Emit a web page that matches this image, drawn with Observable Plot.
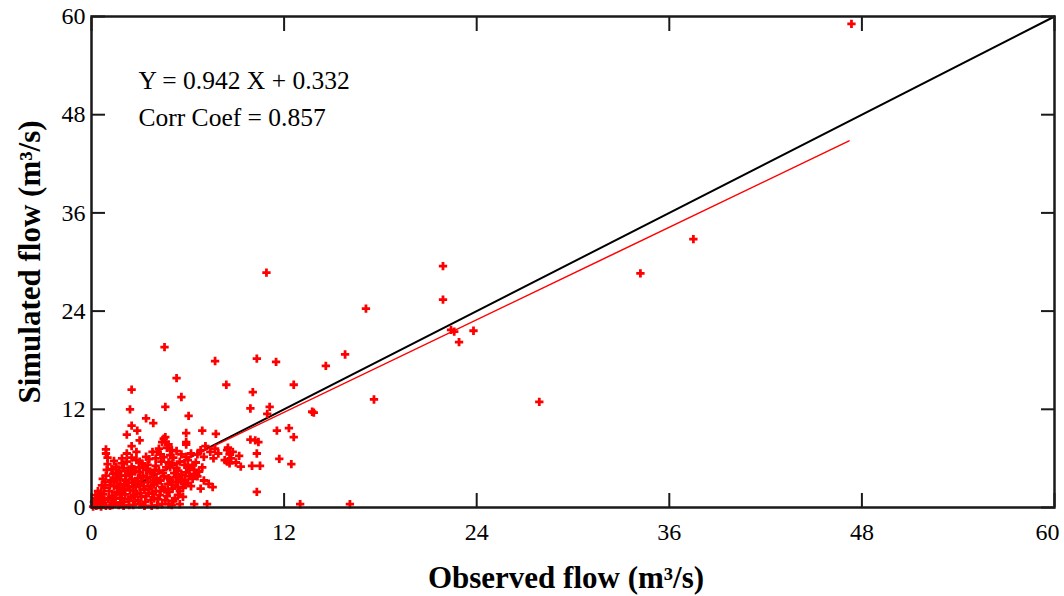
<!DOCTYPE html>
<html><head><meta charset="utf-8">
<script src="https://cdn.jsdelivr.net/npm/d3@7"></script>
<script src="https://cdn.jsdelivr.net/npm/@observablehq/plot@0.6"></script>
<style>body{margin:0;background:#fff}</style>
</head><body><div id="chart"></div>
<script>
// Observed vs simulated flow pairs (m3/s)
const flowPairs = [
  [47.35,59.1],[37.5,32.8],[34.2,28.6],[27.9,12.9],[21.9,29.5],[21.9,25.4],[22.4,21.7],[22.6,21.5],
  [22.9,20.2],[23.8,21.6],[17.1,24.3],[17.6,13.2],[15.8,18.7],[14.6,17.3],[13.75,11.7],[13.85,11.6],
  [16.1,0.4],[13.0,0.4],[10.9,28.7],[4.55,19.6],[5.3,15.8],[7.7,17.9],[10.3,18.2],[11.5,17.8],
  [8.4,15.0],[12.6,15.0],[10.05,14.1],[5.6,13.5],[4.6,12.3],[9.9,12.1],[11.1,12.3],[10.95,11.45],
  [2.5,14.4],[2.4,12.0],[3.85,10.3],[6.05,11.2],[6.9,9.4],[5.9,9.1],[7.75,9.0],[11.55,9.4],
  [12.3,9.7],[12.6,8.6],[9.9,8.3],[10.2,8.2],[10.4,8.0],[5.9,8.0],[12.45,5.3],[11.7,5.95],
  [10.0,5.1],[10.5,5.1],[10.3,6.6],[9.3,5.0],[10.3,1.9],[7.55,2.5],[6.4,0.4],[7.2,0.4],
  [4.4,0.4],[4.8,0.4],[2.5,10.0],[2.85,9.4],[3.4,10.9],[2.2,8.9],[3.0,8.2],[2.5,7.5],
  [2.8,6.8],[0.9,7.1],[4.1,6.8],[4.6,8.0],[4.5,8.4],[4.8,7.7],[5.9,7.7],[5.9,6.2],
  [8.45,7.0],[8.6,6.5],[8.45,5.6],[6.9,4.9],[6.4,4.1],[5.4,1.55],[5.85,2.9],[5.45,3.7],
  [4.5,6.15],[4.9,4.9],
  [6.8,7.0],[7.1,7.5],[7.4,6.8],[7.7,7.2],[7.0,6.2],[7.6,6.0],[7.9,6.6],[6.6,6.5],
  [8.5,7.3],[8.8,6.8],[8.7,6.0],[9.0,5.5],[9.2,6.3],[8.3,5.8],[8.6,5.4],
  [4.6,8.6],[4.4,8.0],[4.7,7.3],[5.0,7.0],[5.3,6.9],[5.6,6.5],[5.1,6.1],[5.5,5.6],
  [6.0,5.8],[6.2,6.6],[5.8,5.2],[6.1,4.6],[5.4,4.5],[6.5,5.5],[6.7,4.4],[6.3,3.5],
  [6.0,3.0],[5.7,2.4],[6.6,3.8],[7.0,3.3],[7.3,2.9],[6.8,2.3],
  [0.1,0.1],[0.2,0.4],[0.3,0.2],[0.35,0.8],[0.45,0.3],[0.5,1.2],[0.55,0.6],[0.6,0.1],[0.25,1.5],[0.4,2.0],
  [0.7,0.5],[0.75,1.6],[0.8,2.4],[0.85,3.1],[0.9,3.9],[0.95,4.6],[1.0,5.3],[1.0,6.1],[0.9,6.6],[1.05,1.0],
  [1.1,2.0],[1.15,0.2],[1.2,3.3],[0.8,0.9],
  [1.3,1.4],[1.35,4.1],[1.4,2.6],[1.45,0.6],[1.5,3.6],[1.55,5.0],[1.6,1.9],[1.7,0.3],[1.7,4.5],[1.75,2.9],
  [1.8,1.1],[1.85,3.9],[1.9,5.4],[1.95,2.2],[2.0,0.7],[2.0,4.8],
  [2.1,1.6],[2.15,3.3],[2.2,5.6],[2.3,2.6],[2.35,0.3],[2.4,4.1],[2.45,1.2],[2.5,5.0],[2.55,3.0],[2.6,2.0],
  [2.7,0.8],[2.7,4.4],[2.8,5.8],[2.85,1.7],[2.9,3.6],[3.0,2.6],[3.0,0.4],[2.95,4.9],
  [3.1,1.3],[3.15,5.4],[3.2,3.9],[3.3,2.2],[3.35,0.7],[3.4,4.6],[3.5,3.1],[3.55,1.8],[3.6,5.9],[3.7,2.6],
  [3.75,0.2],[3.8,4.1],[3.85,3.4],[3.9,1.1],[4.0,5.1],[4.0,2.0],
  [4.1,3.0],[4.2,4.5],[4.25,1.5],[4.35,5.6],[4.4,2.5],[4.5,3.8],[4.6,0.9],[4.65,4.9],[4.75,2.9],[4.85,1.9],
  [4.9,3.4],[5.0,5.4],[5.05,2.3],[5.15,4.2],[5.2,1.1],[4.3,6.5],[4.2,7.2],[4.9,6.4],
  [5.3,3.1],[5.5,2.0],[5.6,4.0],[5.8,3.4],[6.0,4.9],[6.2,2.6],[6.4,4.6],
  [0.9,0.2],[1.3,0.3],[2.0,0.2],[2.6,0.3],[3.3,0.2],[4.1,0.3],[5.0,0.3],[5.5,0.4],
  [0.15,0.7],[0.3,1.1],[0.6,1.8],[0.65,2.7],[0.5,0.9],[0.7,3.5],[1.25,4.7],[1.15,2.7],[1.25,0.9],[1.4,3.1],
  [1.6,4.2],[1.5,1.2],[1.65,2.4],[1.8,3.4],[1.85,0.6],[1.9,1.6],[2.05,2.7],[2.1,3.9],[2.25,4.5],[2.3,1.0],
  [2.4,2.1],[2.5,3.5],[2.6,4.7],[2.65,1.4],[2.75,2.5],[2.8,3.2],[2.9,0.9],[3.0,4.3],[3.05,1.8],[3.1,3.0],
  [3.2,4.9],[3.25,2.6],[3.4,1.4],[3.45,3.7],[3.5,5.2],[3.6,2.3],[3.65,4.4],[3.7,0.9],[3.8,1.7],[3.9,2.8],
  [3.95,4.6],[4.05,3.6],[4.15,1.0],[4.3,2.0],[4.3,3.3],[4.45,4.2],[4.55,2.2],[4.7,1.4],[4.8,3.6],[4.8,5.5],
  [5.0,2.8],[5.1,0.8],[5.25,3.7],[5.3,4.8],[5.4,2.5],[5.6,3.2],[5.7,1.3],[5.9,4.3],[6.1,3.8],[6.3,5.2],
  [3.4,6.2],[3.0,5.6],[2.5,6.1],[1.9,6.0],[1.4,5.7],[2.2,6.6],[3.8,6.8],[4.0,6.0]
];
// 1:1 line and fitted regression line end points
const oneToOneX = [0, 60];
const oneToOneY = [0, 60];
const fitX = [0, 47.2];
const fitY = [0.33, 44.8];
const axisTicks = [0, 12, 24, 36, 48, 60];
const innerXLabelTicks = [0, 12, 24, 36, 48];
const lastXLabelTick = [60];
const annotations = ["Y = 0.942 X + 0.332", "Corr Coef = 0.857"];
const xLabel = "Observed flow (m³/s)";
const yLabel = "Simulated flow (m³/s)";

const points = flowPairs.map(([o, s]) => ({observed: o, simulated: s}));
const lineData = (xs, ys) => xs.map((x, i) => ({x, y: ys[i]}));
const ink = "#1a1a1a";

const chart = Plot.plot({
  width: 1064,
  height: 596,
  marginLeft: 91,
  marginRight: 10,
  marginTop: 16,
  marginBottom: 89,
  style: {fontFamily: "'Liberation Serif', 'Times New Roman', serif", fontSize: "24px", background: "#fff", color: ink},
  x: {domain: [0, 60]},
  y: {domain: [0, 60]},
  marks: [
    Plot.line(lineData(oneToOneX, oneToOneY), {x: "x", y: "y", stroke: "#000", strokeWidth: 2}),
    Plot.line(lineData(fitX, fitY), {x: "x", y: "y", stroke: "#ff0000", strokeWidth: 1.5}),
    Plot.dot(points, {x: "observed", y: "simulated", symbol: "cross", r: 3.5, fill: "#ff0000", stroke: "none"}),
    Plot.axisX({anchor: "bottom", ticks: axisTicks, tickSize: -14, strokeWidth: 2, stroke: ink, tickFormat: () => "", label: null}),
    Plot.axisX({anchor: "bottom", ticks: innerXLabelTicks, tickSize: 0, tickPadding: 15, fill: "#000", label: null, fontSize: 24}),
    Plot.axisX({anchor: "bottom", ticks: lastXLabelTick, tickSize: 0, tickPadding: 15, dx: -7, fill: "#000", label: null, fontSize: 24}),
    Plot.axisX({anchor: "top", ticks: axisTicks, tickSize: -14, tickFormat: () => "", strokeWidth: 2, stroke: ink, label: null}),
    Plot.axisY({anchor: "left", ticks: axisTicks, tickSize: -14, tickPadding: 20, strokeWidth: 2, stroke: ink, fill: "#000", label: null, fontSize: 24}),
    Plot.axisY({anchor: "right", ticks: axisTicks, tickSize: -14, tickFormat: () => "", strokeWidth: 2, stroke: ink, label: null}),
    Plot.frame({stroke: ink, strokeWidth: 2.5}),
    Plot.text([annotations[0]], {frameAnchor: "top-left", dx: 47, dy: 64, textAnchor: "start", lineAnchor: "middle", fontSize: 25.5, fill: "#000"}),
    Plot.text([annotations[1]], {frameAnchor: "top-left", dx: 47, dy: 101, textAnchor: "start", lineAnchor: "middle", fontSize: 25.5, fill: "#000"}),
    Plot.text([xLabel], {frameAnchor: "bottom", dx: -7, dy: 71, textAnchor: "middle", lineAnchor: "middle", fontSize: 31, fontWeight: "bold", fill: "#000"}),
    Plot.text([yLabel], {frameAnchor: "left", dx: -61, rotate: -90, textAnchor: "middle", lineAnchor: "middle", fontSize: 31, fontWeight: "bold", fill: "#000"})
  ]
});
document.getElementById("chart").appendChild(chart);
</script>
</body></html>
